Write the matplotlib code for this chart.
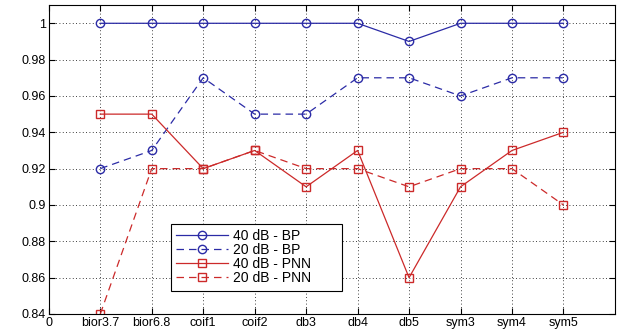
import numpy as np
import matplotlib.pyplot as plt

# wavelet families on the x axis
wavelets = ["bior3.7", "bior6.8", "coif1", "coif2", "db3",
            "db4", "db5", "sym3", "sym4", "sym5"]

bp_40 = [1.00, 1.00, 1.00, 1.00, 1.00, 1.00, 0.99, 1.00, 1.00, 1.00]
bp_20 = [0.92, 0.93, 0.97, 0.95, 0.95, 0.97, 0.97, 0.96, 0.97, 0.97]
pnn_40 = [0.95, 0.95, 0.92, 0.93, 0.91, 0.93, 0.86, 0.91, 0.93, 0.94]
pnn_20 = [0.84, 0.92, 0.92, 0.93, 0.92, 0.92, 0.91, 0.92, 0.92, 0.90]

y_ticks = [0.84, 0.86, 0.88, 0.9, 0.92, 0.94, 0.96, 0.98, 1]

BLUE = "#2b2ba6"
RED = "#cc2a2a"

plt.rcParams["font.family"] = "Liberation Sans"
plt.rcParams["font.size"] = 9

fig = plt.figure(figsize=(6.18, 3.3), dpi=100)
# axes box: x 49..615 px, y 5..314 px
ax = fig.add_axes([0.079, 0.0485, 0.916, 0.936])

x = np.arange(1, len(wavelets) + 1)
ms = 6
ax.plot(x, bp_40, "-", color=BLUE, marker="o", mfc="none", ms=ms, lw=0.9,
        label="40 dB - BP")
ax.plot(x, bp_20, "--", color=BLUE, marker="o", mfc="none", ms=ms, lw=0.9,
        dashes=(6, 4), label="20 dB - BP")
ax.plot(x, pnn_40, "-", color=RED, marker="s", mfc="none", ms=ms, lw=0.9,
        label="40 dB - PNN")
ax.plot(x, pnn_20, "--", color=RED, marker="s", mfc="none", ms=ms, lw=0.9,
        dashes=(6, 4), label="20 dB - PNN")

ax.set_xlim(0, 11)
ax.set_ylim(0.84, 1.01)
ax.set_xticks(np.arange(0, 11))
ax.set_xticklabels(["0"] + wavelets)
ax.set_yticks(y_ticks)
ax.set_yticklabels([f"{v:g}" for v in y_ticks])
ax.tick_params(direction="in", length=4, width=0.8, pad=2,
               top=True, right=True, labelsize=9)
ax.grid(True, color="black", linestyle=(0, (1, 3)), lw=0.6)
for s in ax.spines.values():
    s.set_linewidth(0.8)

# legend box roughly x 171..342 px, y 224..291 px
leg = ax.legend(loc="lower left", bbox_to_anchor=(0.2155, 0.075, 0.302, 0),
                mode="expand", borderaxespad=0, fancybox=False,
                edgecolor="black", framealpha=1, handlelength=3.7,
                handletextpad=0.4, borderpad=0.4, labelspacing=0.0,
                fontsize=10)
leg.get_frame().set_linewidth(0.8)

fig.savefig("out.png", dpi=100)
